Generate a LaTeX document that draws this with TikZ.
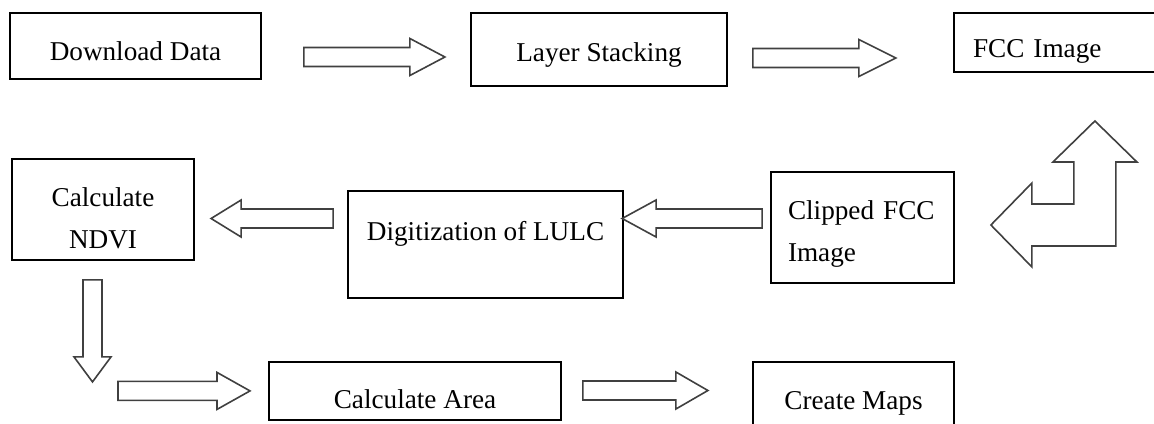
\documentclass[tikz,border=0pt]{standalone}
\usepackage{fontspec}
\setmainfont{Liberation Serif}
\usetikzlibrary{calc}

\tikzset{
  taskbox/.style={draw=black, line width=0.9pt, inner sep=0pt, fill=white,
    font=\fontsize{13.6}{21}\selectfont},
  arrowline/.style={draw=black!75, line width=0.8pt, fill=white, line join=miter},
  pics/fatarrow/.style n args={2}{code={
    \draw[arrowline] (0,-9.5) -- ({#1-#2},-9.5) -- ({#1-#2},-18.5) -- (#1,0)
      -- ({#1-#2},18.5) -- ({#1-#2},9.5) -- (0,9.5) -- cycle;
  }}
}

\begin{document}
\begin{tikzpicture}[x=0.5pt, y=-0.5pt]
  \useasboundingbox (0,0) rectangle (1154,423);
  \clip (0,0) rectangle (1154,423);

  % --- Top row ---
  \node[taskbox, minimum width=125.5pt, minimum height=33pt, text height=14pt, text depth=0pt]
    (download) at (135.5,46) {Download Data};
  \node[taskbox, minimum width=128pt, minimum height=36.5pt, text height=11.5pt, text depth=0pt]
    (layer) at (599,49.5) {Layer Stacking};
  \node[taskbox, minimum width=103pt, minimum height=29.5pt, text height=14.5pt, text depth=0pt,
    text width=84pt, align=left, inner xsep=9.5pt]
    (fcc) at (1057,42.5) {FCC Image};

  % --- Middle row ---
  \node[taskbox, minimum width=91pt, minimum height=50.5pt, align=center]
    (ndvi) at (103,209.5) {\rule{0pt}{18.5pt}Calculate\\NDVI};
  \node[taskbox, minimum width=137.5pt, minimum height=53.5pt, text height=4pt, text depth=8.5pt]
    (digit) at (485.5,244.5) {Digitization of LULC};
  \node[taskbox, minimum width=91.5pt, minimum height=55.5pt, text width=74.5pt,
    align=left, inner xsep=8.5pt]
    (clipped) at (862.5,227.5) {\rule{0pt}{15.5pt}Clipped FCC\\Image};

  % --- Bottom row ---
  \node[taskbox, minimum width=146pt, minimum height=29pt, text height=17pt, text depth=0pt]
    (area) at (415,391) {Calculate Area};
  \node[taskbox, minimum width=100.5pt, minimum height=34pt, text height=13pt, text depth=0pt]
    (maps) at (853.5,396) {Create Maps};

  % Block arrows
  \path ($(download.east)+(42,11)$) pic {fatarrow={141}{35}};
  \path ($(layer.east)+(25,8.5)$) pic {fatarrow={143}{37}};
  \path ($(digit.west)+(-14,-26)$) pic[rotate=180] {fatarrow={122}{30}};
  \path ($(clipped.west)+(-8,-9)$) pic[rotate=180] {fatarrow={140}{34}};
  \path ($(ndvi.south)+(-10.5,19)$) pic[rotate=-90] {fatarrow={102}{25}};
  \path ($(ndvi.south)+(15,130)$) pic {fatarrow={132}{33}};
  \path ($(area.east)+(21,-0.5)$) pic {fatarrow={125}{32}};

  % Bent arrow: FCC Image -> Clipped FCC Image
  \begin{scope}[shift={(clipped.east)}]
    \draw[arrowline] (140,-106.5) -- (182,-65.5) -- (161,-65.5) -- (161,18.5)
      -- (77,18.5) -- (77,39.5) -- (36,-2.5) -- (77,-44.5) -- (77,-23.5)
      -- (119,-23.5) -- (119,-65.5) -- (98,-65.5) -- cycle;
  \end{scope}
\end{tikzpicture}
\end{document}
